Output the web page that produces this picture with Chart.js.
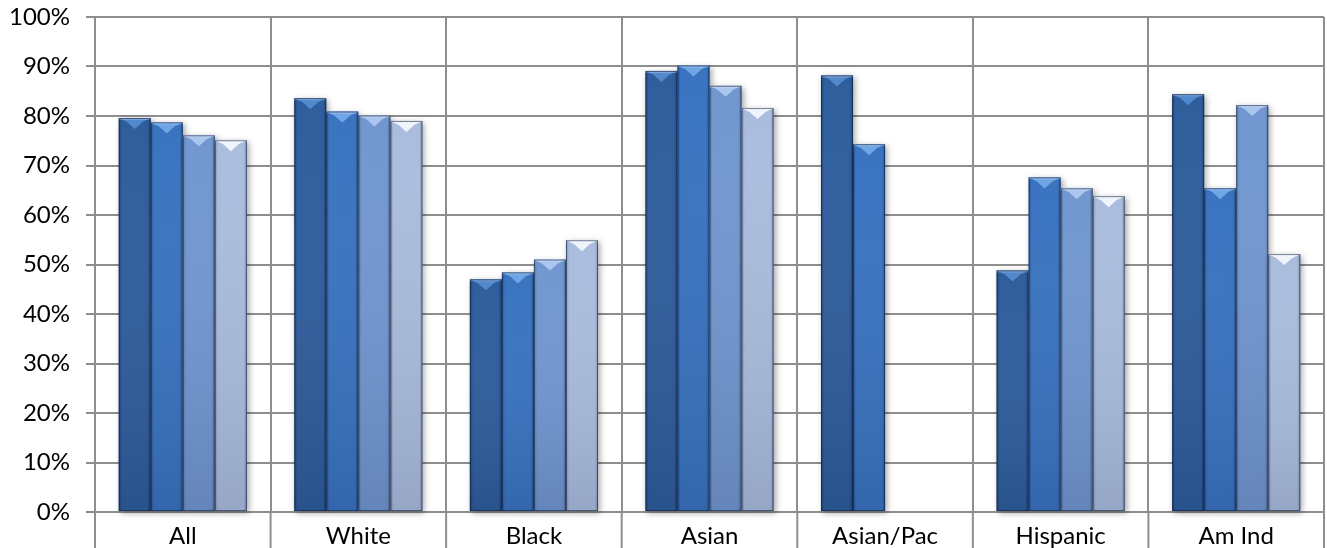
<!DOCTYPE html>
<html><head><meta charset="utf-8">
<script src="https://cdn.jsdelivr.net/npm/chart.js@4"></script>
<style>html,body{margin:0;padding:0;background:#fff}#wrap{width:1327px;height:548px}</style>
</head><body><div id="wrap"><canvas id="c" width="1327" height="548"></canvas></div>
<script>
const categories = ["All","White","Black","Asian","Asian/Pac","Hispanic","Am Ind"];
const series1 = [79.6, 83.6, 47.0, 89.1, 88.2, 48.8, 84.4];
const series2 = [78.7, 80.9, 48.4, 90.2, 74.3, 67.6, 65.4];
const series3 = [76.1, 80.1, 51.0, 86.1, null, 65.4, 82.2];
const series4 = [75.1, 79.0, 54.9, 81.6, null, 63.8, 52.1];
const yTicks = [0,10,20,30,40,50,60,70,80,90,100];

const palette = [
  {edge:'#1f4478', mid:'#2f5e9c', top:'#5288cc'},
  {edge:'#28569a', mid:'#3a74c0', top:'#70a6e6'},
  {edge:'#58779f', mid:'#7297d0', top:'#aac6ee'},
  {edge:'#8092b5', mid:'#abbddd', top:'#f0f5fd'}
];
const GRID = '#8e8e8e';

const bevelPlugin = {
  id:'bevel',
  afterDatasetsDraw(chart){
    const ctx = chart.ctx;
    chart.data.datasets.forEach((ds,i)=>{
      const meta = chart.getDatasetMeta(i);
      const p = palette[i];
      meta.data.forEach((bar,j)=>{
        if (ds.data[j]==null) return;
        const w = bar.width, x0 = bar.x - w/2, x1 = bar.x + w/2, yt = bar.y, yb = bar.base;
        const g = ctx.createLinearGradient(x0,0,x1,0);
        g.addColorStop(0,p.edge); g.addColorStop(0.1,p.mid); g.addColorStop(0.55,p.mid); g.addColorStop(0.9,p.mid); g.addColorStop(1,p.edge);
        ctx.save();
        ctx.shadowColor='rgba(0,0,0,0.35)'; ctx.shadowBlur=6; ctx.shadowOffsetX=2; ctx.shadowOffsetY=2;
        ctx.fillStyle=g; ctx.fillRect(x0,yt,w,yb-yt);
        ctx.restore();
        const vg = ctx.createLinearGradient(0,yt,0,yb);
        vg.addColorStop(0,'rgba(255,255,255,0)'); vg.addColorStop(1,'rgba(0,0,30,0.12)');
        ctx.fillStyle=vg; ctx.fillRect(x0,yt,w,yb-yt);
        const b = Math.min(11,(yb-yt));
        ctx.fillStyle=p.top;
        ctx.beginPath(); ctx.moveTo(x0,yt); ctx.lineTo(x1,yt); ctx.lineTo(x1-w*0.25,yt+b*0.35); ctx.lineTo(bar.x,yt+b); ctx.lineTo(x0+w*0.25,yt+b*0.35); ctx.closePath(); ctx.fill();
        ctx.fillStyle='rgba(255,255,255,0.25)'; ctx.fillRect(x0,yt,w,2);
        ctx.strokeStyle='rgba(10,25,60,0.55)'; ctx.lineWidth=1;
        ctx.strokeRect(x0+0.5,yt+0.5,w-1,yb-yt-1);
      });
    });
  }
};

const sepPlugin = {
  id:'sep',
  afterDraw(chart){
    const ctx = chart.ctx, xs = chart.scales.x, a = chart.chartArea;
    const n = categories.length;
    const pts = [a.left];
    for (let i=0;i<n-1;i++) pts.push((xs.getPixelForValue(i)+xs.getPixelForValue(i+1))/2);
    pts.push(a.right);
    ctx.save(); ctx.strokeStyle=GRID; ctx.lineWidth=2;
    pts.forEach(px=>{ctx.beginPath(); ctx.moveTo(px,a.bottom); ctx.lineTo(px,chart.height); ctx.stroke();});
    ctx.restore();
  }
};

new Chart(document.getElementById('c'),{
  type:'bar',
  data:{labels:categories,datasets:[series1,series2,series3,series4].map((d,i)=>({
    label:'S'+(i+1),data:d,backgroundColor:'rgba(0,0,0,0)',borderWidth:0,
    barPercentage:1.0,categoryPercentage:0.73}))},
  options:{
    responsive:false,animation:false,
    layout:{padding:{top:17,right:3,left:0,bottom:0}},
    plugins:{legend:{display:false},tooltip:{enabled:false}},
    scales:{
      x:{grid:{offset:true,color:GRID,lineWidth:2,drawTicks:false},
         border:{color:GRID,width:2},
         afterFit(s){s.height=36;},
         ticks:{color:'#000',font:{family:'Lato',size:24,lineHeight:1},padding:12,maxRotation:0,autoSkip:false}},
      y:{min:0,max:100,afterBuildTicks(ax){ax.ticks=yTicks.map(v=>({value:v}));},
         afterFit(s){s.width=95; s.paddingTop=0; s.paddingBottom=0;},
         grid:{color:GRID,lineWidth:2,tickLength:9},
         border:{color:GRID,width:2},
         ticks:{color:'#000',font:{family:'Lato',size:24},padding:16,callback:v=>v+'%'}}
    }
  },
  plugins:[bevelPlugin,sepPlugin]
});
</script></body></html>
